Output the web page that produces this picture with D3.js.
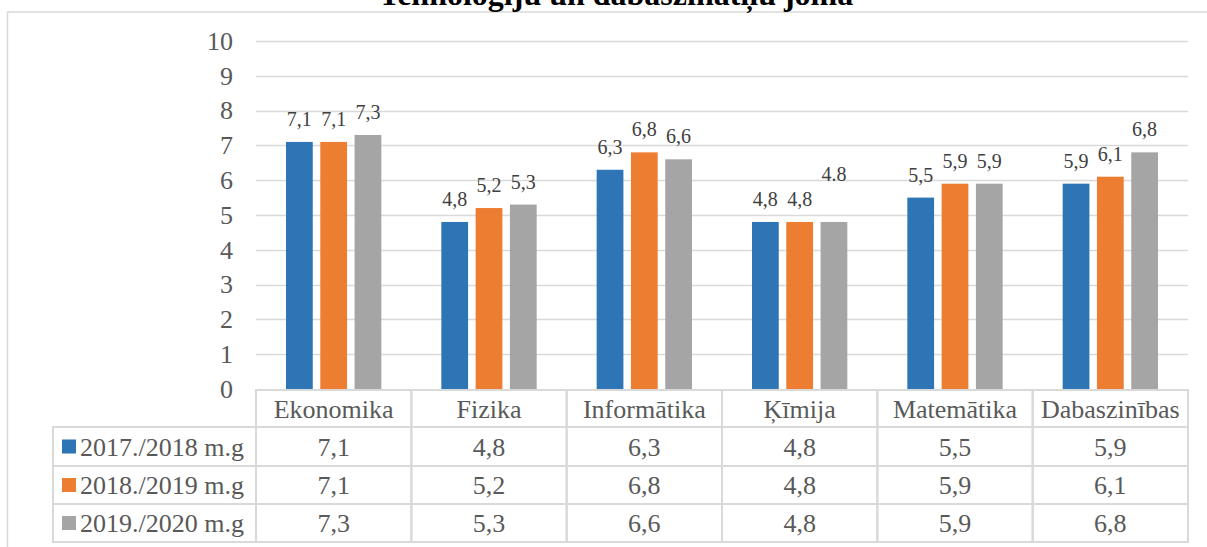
<!DOCTYPE html>
<html><head><meta charset="utf-8">
<script src="https://cdn.jsdelivr.net/npm/d3@7"></script>
<style>
html,body{margin:0;padding:0;background:#fff;}
svg{display:block;font-family:"Liberation Serif","Times New Roman",serif;}
</style></head>
<body>
<svg id="chart" width="1207" height="547"></svg>
<script>
const title = "Tehnoloģiju un dabaszinātņu joma";
const categories = ["Ekonomika","Fizika","Informātika","Ķīmija","Matemātika","Dabaszinības"];
const seriesNames = ["2017./2018 m.g","2018./2019 m.g","2019./2020 m.g"];
const values2017 = [7.1,4.8,6.3,4.8,5.5,5.9];
const values2018 = [7.1,5.2,6.8,4.8,5.9,6.1];
const values2019 = [7.3,5.3,6.6,4.8,5.9,6.8];
const labels2017 = ["7,1","4,8","6,3","4,8","5,5","5,9"];
const labels2018 = ["7,1","5,2","6,8","4,8","5,9","6,1"];
const labels2019 = ["7,3","5,3","6,6","4.8","5,9","6,8"];
const yTicks = [0,1,2,3,4,5,6,7,8,9,10];
const colors = ["#2E75B6","#ED7D31","#A5A5A5"];

const series = [
  {name: seriesNames[0], values: values2017, labels: labels2017},
  {name: seriesNames[1], values: values2018, labels: labels2018},
  {name: seriesNames[2], values: values2019, labels: labels2019}
];

const svg = d3.select("#chart");
const plotL = 256, plotR = 1188;
const x0 = d3.scaleBand().domain(categories).range([plotL, plotR]).padding(0);
const x1 = d3.scaleBand().domain(d3.range(series.length)).range([30, x0.bandwidth() - 30]).paddingInner(0.22).paddingOuter(0);
const y = d3.scaleLinear().domain([0, 10]).range([389, 41]);

const textCol = "#595959", gridCol = "#D9D9D9";

// outer border
svg.append("rect").attr("x", 7.5).attr("y", 12).attr("width", 1220).attr("height", 560)
  .attr("fill", "none").attr("stroke", gridCol).attr("stroke-width", 1.5);

// title (partly cut off at top)
svg.append("text").attr("x", 616).attr("y", 5).attr("text-anchor", "middle")
  .attr("font-size", 32).attr("font-weight", "bold").attr("fill", "#000").text(title);

// gridlines
svg.append("g").selectAll("line").data(yTicks.filter(d => d > 0)).join("line")
  .attr("x1", plotL).attr("x2", plotR)
  .attr("y1", d => Math.round(y(d)) + 0.5).attr("y2", d => Math.round(y(d)) + 0.5)
  .attr("stroke", gridCol).attr("stroke-width", 1.5);

// y axis labels
const yAxis = d3.axisLeft(y).tickValues(yTicks).tickSize(0).tickPadding(0).tickFormat(d3.format("d"));
const yg = svg.append("g").attr("transform", "translate(233,0)").call(yAxis);
yg.select(".domain").remove();
yg.selectAll("text").attr("font-size", 26).attr("fill", textCol)
  .attr("font-family", "Liberation Serif, Times New Roman, serif");

// bars
const groups = svg.append("g").selectAll("g").data(categories).join("g")
  .attr("transform", d => `translate(${x0(d)},0)`);
series.forEach((s, si) => {
  groups.append("rect")
    .attr("x", x1(si)).attr("width", x1.bandwidth())
    .attr("y", (d, i) => y(s.values[i]))
    .attr("height", (d, i) => y(0) - y(s.values[i]))
    .attr("fill", colors[si]);
  groups.append("text")
    .attr("x", x1(si) + x1.bandwidth() / 2)
    .attr("y", (d, i) => y(s.values[i]) - 16 - (s.labels[i].includes(".") ? 25 : 0))
    .attr("text-anchor", "middle").attr("font-size", 20).attr("fill", "#404040")
    .text((d, i) => s.labels[i]);
});

// data table
const tableTop = 390, rowH = [37, 39, 38, 38];
const rowY = [tableTop];
rowH.forEach((h, i) => rowY.push(rowY[i] + h));
const legendL = 53;
const tg = svg.append("g");
const bw = x0.bandwidth();
// header cells
categories.forEach(c => {
  tg.append("rect").attr("x", x0(c)).attr("y", rowY[0]).attr("width", bw).attr("height", rowH[0])
    .attr("fill", "none").attr("stroke", gridCol).attr("stroke-width", 2);
  tg.append("text").attr("x", x0(c) + bw / 2).attr("y", rowY[0] + rowH[0] / 2 + 9)
    .attr("text-anchor", "middle").attr("font-size", 26).attr("fill", textCol).text(c);
});
series.forEach((s, si) => {
  const top = rowY[si + 1], h = rowH[si + 1];
  tg.append("rect").attr("x", legendL).attr("y", top).attr("width", plotL - legendL).attr("height", h)
    .attr("fill", "none").attr("stroke", gridCol).attr("stroke-width", 2);
  tg.append("rect").attr("x", 62).attr("y", top + h / 2 - 7).attr("width", 14).attr("height", 14)
    .attr("fill", colors[si]);
  tg.append("text").attr("x", 80).attr("y", top + h / 2 + 9).attr("font-size", 26).attr("fill", textCol).text(s.name);
  categories.forEach((c, ci) => {
    tg.append("rect").attr("x", x0(c)).attr("y", top).attr("width", bw).attr("height", h)
      .attr("fill", "none").attr("stroke", gridCol).attr("stroke-width", 2);
    tg.append("text").attr("x", x0(c) + bw / 2).attr("y", top + h / 2 + 9)
      .attr("text-anchor", "middle").attr("font-size", 26).attr("fill", textCol)
      .text(String(s.values[ci]).replace(".", ","));
  });
});
</script>
</body></html>
